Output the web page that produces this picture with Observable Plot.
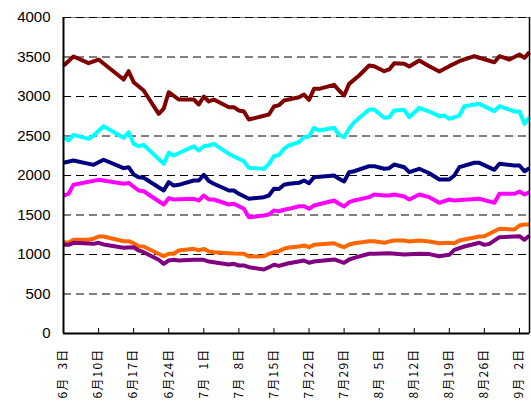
<!DOCTYPE html>
<html><head><meta charset="utf-8">
<script src="https://cdn.jsdelivr.net/npm/d3@7"></script>
<script src="https://cdn.jsdelivr.net/npm/@observablehq/plot@0.6"></script>
<style>body{margin:0;background:#fff;} svg{display:block;}</style>
</head><body><div id="chart"></div>
<script>
// x = days since 6月3日
const tickDays = [0, 7, 14, 21, 28, 35, 42, 49, 56, 63, 70, 77, 84, 91];
const tickLabels = ["6月3日","6月10日","6月17日","6月24日","7月1日","7月8日","7月15日","7月22日","7月29日","8月5日","8月12日","8月19日","8月26日","9月2日"];
const yTicks = [0, 500, 1000, 1500, 2000, 2500, 3000, 3500, 4000];

const seriesNames = ["A", "B", "C", "D", "E", "F"];
const seriesColors = ["#800000", "#00FFFF", "#000080", "#FF00FF", "#FF6600", "#800080"];

const aDays = [0,2,5,7,12,13,14,16,19,20,21,23,26,27,28,29,30,33,34,35,36,37,41,42,43,44,47,48,49,50,51,54,55,56,57,59,61,62,64,65,66,68,69,71,73,75,77,79,82,86,87,89,91,92,93];
const aValues = [3390,3506,3422,3468,3215,3320,3181,3076,2780,2847,3054,2962,2962,2899,3000,2937,2962,2865,2865,2823,2810,2709,2772,2873,2890,2949,2991,3025,2958,3097,3097,3147,3076,3013,3160,3266,3392,3384,3320,3342,3422,3414,3380,3456,3384,3316,3384,3447,3510,3434,3510,3468,3532,3489,3561];

const bDays = [0,1,2,5,6,8,12,13,14,15,16,20,21,22,26,27,28,29,30,33,36,37,40,41,42,43,44,45,47,48,49,50,51,54,55,56,57,58,61,62,64,65,66,68,69,71,73,75,76,77,79,80,83,86,87,90,91,92,93];
const bValues = [2485,2443,2515,2464,2506,2624,2477,2548,2401,2371,2388,2148,2287,2253,2371,2316,2371,2380,2401,2274,2181,2097,2084,2148,2244,2260,2338,2380,2422,2485,2494,2604,2570,2604,2515,2485,2591,2675,2835,2835,2730,2738,2823,2831,2738,2857,2810,2751,2759,2717,2759,2877,2907,2814,2877,2810,2810,2654,2738];

const cDays = [0,2,6,8,12,13,14,15,16,20,21,22,23,26,27,28,29,30,33,34,35,37,40,41,42,43,44,45,47,48,49,50,54,55,56,57,58,61,62,64,65,66,68,69,71,73,75,77,78,79,82,83,86,87,90,91,92,93];
const cValues = [2161,2190,2135,2199,2093,2105,2013,1979,1971,1810,1916,1873,1882,1937,1937,2008,1929,1895,1810,1810,1768,1705,1726,1747,1832,1830,1882,1895,1907,1937,1903,1979,2000,1958,1924,2042,2054,2118,2118,2085,2093,2139,2105,2042,2085,2029,1949,1949,2000,2105,2161,2160,2072,2148,2127,2127,2054,2093];

const dDays = [0,1,2,7,12,13,15,16,20,21,22,26,27,28,29,30,33,34,36,37,40,41,42,43,44,45,47,48,49,50,54,55,56,57,58,61,62,64,65,66,68,69,71,73,75,77,78,80,83,86,87,90,91,92,93];
const dValues = [1747,1768,1882,1945,1895,1907,1810,1801,1633,1713,1696,1705,1684,1747,1696,1696,1633,1642,1578,1472,1494,1506,1557,1548,1566,1578,1611,1611,1578,1620,1684,1642,1608,1662,1684,1726,1759,1747,1747,1759,1734,1696,1759,1726,1654,1696,1684,1692,1705,1654,1768,1768,1797,1759,1789];

const eDays = [0,1,2,5,6,7,8,12,13,14,15,16,20,21,22,23,26,27,28,29,30,33,34,36,37,40,41,42,43,44,45,47,48,49,50,54,55,56,57,58,61,62,64,65,66,68,69,71,73,75,77,78,79,80,83,84,85,87,90,91,92,93];
const eValues = [1156,1148,1186,1186,1199,1228,1228,1168,1168,1143,1105,1101,978,1009,1009,1051,1072,1051,1072,1038,1029,1017,1012,1009,975,978,1009,1029,1042,1072,1088,1101,1114,1092,1122,1143,1114,1092,1127,1143,1168,1168,1148,1165,1177,1177,1165,1177,1165,1143,1148,1143,1177,1190,1228,1232,1262,1325,1316,1367,1380,1380];

const fDays = [0,1,2,6,7,8,12,14,15,16,19,20,21,22,23,26,28,29,30,33,34,35,36,37,40,41,42,43,44,45,48,49,50,54,55,56,57,58,61,62,65,68,71,73,75,77,78,80,83,84,85,87,90,91,92,93];
const fValues = [1122,1122,1148,1135,1148,1127,1085,1092,1051,1029,933,882,924,933,924,933,933,911,903,873,882,861,861,839,810,839,870,856,873,890,924,895,911,937,915,895,937,958,1009,1009,1017,1000,1009,1005,978,996,1059,1101,1148,1122,1135,1219,1228,1232,1186,1241];

const dayArrays = [aDays, bDays, cDays, dDays, eDays, fDays];
const valueArrays = [aValues, bValues, cValues, dValues, eValues, fValues];

const rows = [];
seriesNames.forEach((name, s) => {
  dayArrays[s].forEach((day, i) => rows.push({series: name, day, value: valueArrays[s][i]}));
});
// single-digit day numbers are padded with a figure space, as in the reference layout
const padLabel = t => t.replace(/月(\d)日$/, "月\u2007$1日");
const labelByDay = new Map(tickDays.map((d, i) => [d, padLabel(tickLabels[i])]));

const chart = Plot.plot({
  width: 531,
  height: 403,
  marginLeft: 63,
  marginRight: 2,
  marginTop: 17,
  marginBottom: 70,
  x: {domain: [0, 93], axis: null},
  y: {domain: [0, 4000], axis: null},
  color: {domain: seriesNames, range: seriesColors},
  marks: [
    Plot.frame({stroke: "#808080"}),
    Plot.ruleY(yTicks.filter(v => v > 0), {stroke: "#000", strokeWidth: 1, strokeDasharray: "8,5"}),
    Plot.axisY(yTicks, {anchor: "left", label: null, tickSize: 0, tickPadding: 13, fontSize: 15, fontFamily: "Liberation Sans, Arial, sans-serif", tickFormat: d => String(d)}),
    Plot.axisX(tickDays, {anchor: "bottom", label: null, tickSize: -5, tickFormat: () => ""}),
    Plot.axisX(tickDays, {anchor: "bottom", label: null, tickSize: 0, tickPadding: 15, tickRotate: -90, fontSize: 12, fontFamily: "Noto Sans CJK JP, sans-serif", tickFormat: d => labelByDay.get(d)}),
    Plot.line(rows, {x: "day", y: "value", z: "series", stroke: "series", strokeWidth: 4, strokeLinejoin: "round", strokeLinecap: "butt"}),
    Plot.ruleX([0], {stroke: "#000", strokeWidth: 2}),
    Plot.ruleX([93], {stroke: "#000", strokeWidth: 1.5}),
    Plot.ruleY([0], {stroke: "#000", strokeWidth: 2})
  ]
});
d3.select(chart).selectAll("g[aria-label='x-axis tick label'] text").style("letter-spacing", "1.2px");
document.getElementById("chart").appendChild(chart);
</script>
</body></html>
